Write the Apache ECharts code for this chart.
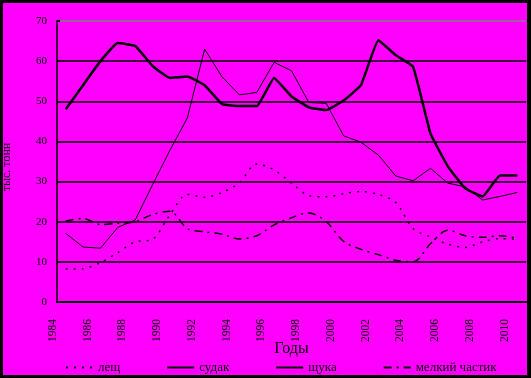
<!DOCTYPE html>
<html>
<head>
<meta charset="utf-8">
<script src="https://cdn.jsdelivr.net/npm/echarts@6/dist/echarts.min.js"></script>
<style>
  html, body { margin: 0; padding: 0; background: #000; }
  #chart { position: absolute; left: 3px; top: 3px; width: 524px; height: 372px; }
</style>
</head>
<body>
<div id="chart"></div>
<script>
const years = ['1984', '1985', '1986', '1987', '1988', '1989', '1990', '1991', '1992', '1993',
  '1994', '1995', '1996', '1997', '1998', '1999', '2000', '2001', '2002', '2003',
  '2004', '2005', '2006', '2007', '2008', '2009', '2010']

const lesch = [8.2, 8.3, 9.8, 12.3, 15, 15.6, 21.7, 26.8, 26.1, 27.3,
  29.7, 34.4, 32.9, 29.6, 26.5, 26.2, 27, 27.5, 26.8, 24.8,
  18.3, 16.2, 14.4, 13.6, 15, 15.8, 15.6]

const sudak = [17.1, 13.7, 13.4, 18.6, 20.4, 29.2, 37.8, 45.8, 63, 56.1,
  51.6, 52.2, 59.7, 57.6, 49.7, 49.5, 41.4, 39.8, 36.6, 31.4,
  30.2, 33.3, 29.6, 28.7, 25.4, 26.3, 27.3]

const schuka = [48, 54, 60, 64.5, 63.8, 58.8, 55.8, 56.2, 54, 49.3,
  48.8, 48.8, 55.8, 51.2, 48.5, 47.8, 50.2, 54, 65.2, 61.5,
  58.6, 42, 33.8, 28.3, 26.3, 31.5, 31.5]

const melkiy = [20.2, 20.8, 19.3, 19.6, 20, 21.8, 22.6, 18.3, 17.5, 16.9,
  15.7, 16.5, 19.2, 21, 22.2, 20, 15.1, 13.1, 11.8, 10.4,
  10, 14.5, 17.9, 16.5, 16.1, 16.5, 15.9]

const font = 'Liberation Serif'

const chart = echarts.init(document.getElementById('chart'))

const option = {
  backgroundColor: '#ff00ff',
  animation: false,
  grid: {
    left: 54,
    right: 1,
    top: 18,
    bottom: 73
  },
  graphic: [
    {
      type: 'text',
      x: 4,
      y: 164,
      rotation: Math.PI / 2,
      style: {
        text: 'тыс. тонн',
        font: '12px "Liberation Serif"',
        fill: '#000',
        align: 'center',
        verticalAlign: 'middle'
      }
    }
  ],
  legend: {
    left: 62,
    top: 358,
    padding: 0,
    itemWidth: 27,
    itemHeight: 10,
    itemGap: 46,
    itemStyle: { opacity: 0 },
    textStyle: { fontFamily: font, fontSize: 13, color: '#000' },
    data: ['лещ', 'судак', 'щука', 'мелкий частик']
  },
  xAxis: [
    {
      type: 'category',
      data: years,
      name: 'Годы',
      nameLocation: 'middle',
      nameGap: 39,
      nameTextStyle: { fontFamily: font, fontSize: 16, color: '#000' },
      axisLine: { lineStyle: { color: '#000', width: 2 } },
      axisTick: { inside: true, length: 3, interval: 0, lineStyle: { color: '#000', width: 2 } },
      axisLabel: { show: false },
      splitLine: { show: false }
    },
    {
      // label-only axis: the year labels sit at the category boundaries
      type: 'value',
      position: 'bottom',
      min: 0,
      max: years.length,
      interval: 1,
      axisLine: { show: false },
      axisTick: { show: false },
      splitLine: { show: false },
      axisLabel: {
        rotate: 90,
        margin: 17,
        align: 'right',
        verticalAlign: 'bottom',
        lineHeight: 8,
        fontFamily: font,
        fontSize: 11.5,
        color: '#000',
        formatter: (v) => (v % 2 === 0 && years[v] ? years[v] : '')
      }
    }
  ],
  yAxis: {
    type: 'value',
    min: 0,
    max: 70,
    interval: 10,
    axisLine: { show: true, lineStyle: { color: '#000', width: 1.5 } },
    axisTick: { show: true, inside: true, length: 3, lineStyle: { color: '#000', width: 2 } },
    axisLabel: { margin: 10, fontFamily: font, fontSize: 11, color: '#000' },
    splitLine: {
      lineStyle: {
        color: ['#000', '#000', '#000', '#000', '#000', '#000', '#000', '#808080'],
        width: 1.5
      }
    }
  },
  series: [
    {
      name: 'лещ',
      type: 'line',
      data: lesch,
      symbol: 'none',
      smooth: 0.3,
      lineStyle: { color: '#000', width: 1.5, type: [2, 6] },
      itemStyle: { color: '#000' }
    },
    {
      name: 'судак',
      type: 'line',
      data: sudak,
      symbol: 'none',
      lineStyle: { color: '#000', width: 1 },
      itemStyle: { color: '#000' }
    },
    {
      name: 'щука',
      type: 'line',
      data: schuka,
      symbol: 'none',
      smooth: 0.1,
      lineStyle: { color: '#000', width: 2.5 },
      itemStyle: { color: '#000' }
    },
    {
      name: 'мелкий частик',
      type: 'line',
      data: melkiy,
      symbol: 'none',
      smooth: 0.3,
      lineStyle: { color: '#000', width: 1.5, type: [8, 5, 2, 5] },
      itemStyle: { color: '#000' }
    }
  ]
}

chart.setOption(option)
</script>
</body>
</html>
